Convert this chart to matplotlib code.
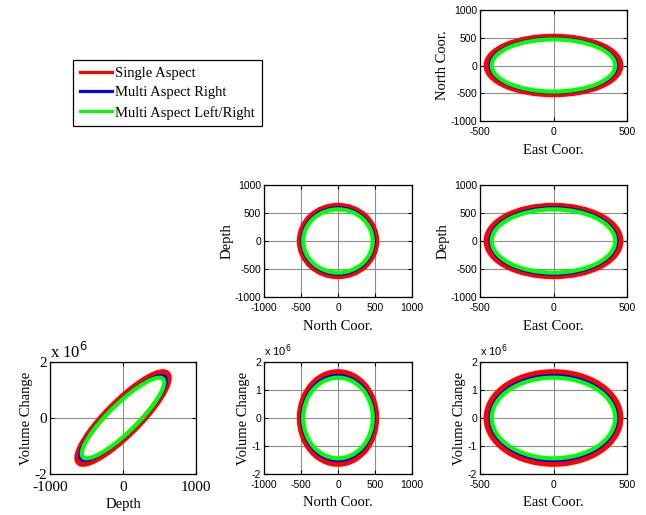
import numpy as np
import matplotlib.pyplot as plt
from matplotlib.patches import Ellipse
from matplotlib.lines import Line2D
from matplotlib.transforms import Affine2D

plt.rcParams["axes.unicode_minus"] = False

SERIES = ["Single Aspect", "Multi Aspect Right", "Multi Aspect Left/Right"]
COLORS = ["#ff0000", "#0000ff", "#00ff00"]
WIDTHS = [5.0, 2.2, 3.0]

# semi-axes (one value per series)
EAST = [452, 432, 420]
NORTH = [510, 490, 470]
DEPTH = [620, 595, 565]
VOLUME = [1.62e6, 1.52e6, 1.44e6]
RHO_DEPTH_VOL = [0.88, 0.88, 0.88]

SERIF = "Liberation Serif"
SANS = "Liberation Sans"
W, H = 646, 515


def px_axes(fig, x0, y0, x1, y1):
    return fig.add_axes([x0 / W, 1 - y1 / H, (x1 - x0) / W, (y1 - y0) / H])


def style(ax, xlim, ylim, xticks, yticks, tickfont, tsize, xpad=4):
    ax.set_xlim(xlim)
    ax.set_ylim(ylim)
    ax.set_xticks(xticks)
    ax.set_yticks(yticks)
    ax.tick_params(direction="in", length=3, width=0.8, top=True, right=True,
                   labelsize=tsize)
    ax.tick_params(axis="x", pad=xpad)
    ax.tick_params(axis="y", pad=2)
    for lab in ax.get_xticklabels() + ax.get_yticklabels():
        lab.set_fontfamily(tickfont)
    ax.grid(True, color="0.55", lw=0.8)
    ax.set_axisbelow(True)
    for s in ax.spines.values():
        s.set_linewidth(0.9)


def draw(ax, sx, sy, rho=None):
    for i in range(len(SERIES)):
        r = 0.0 if rho is None else rho[i]
        m = np.array([[sx[i], 0, 0],
                      [sy[i] * r, sy[i] * np.sqrt(1 - r * r), 0],
                      [0, 0, 1]])
        e = Ellipse((0, 0), 2, 2, fill=False, edgecolor=COLORS[i], lw=WIDTHS[i],
                    transform=Affine2D(m) + ax.transData, zorder=3 + i)
        ax.add_patch(e)


def labels(ax, xl, yl, xlpad=5):
    ax.set_xlabel(xl, fontfamily=SERIF, fontsize=10.5, labelpad=xlpad)
    ax.set_ylabel(yl, fontfamily=SERIF, fontsize=10.5, labelpad=1)


fig = plt.figure(figsize=(W / 100, H / 100), dpi=100)

COLS = [(50, 196), (264, 412), (480, 627)]
ROWS = [(10, 121), (185, 297), (362, 474)]
t1000 = [-1000, -500, 0, 500, 1000]
t500 = [-500, 0, 500]
tvol = [-2e6, -1e6, 0, 1e6, 2e6]
TS = 7.5

# East vs North
ax = px_axes(fig, COLS[2][0], ROWS[0][0], COLS[2][1], ROWS[0][1])
draw(ax, EAST, NORTH)
style(ax, (-500, 500), (-1000, 1000), t500, t1000, SANS, TS)
labels(ax, "East Coor.", "North Coor.")

# North vs Depth
ax = px_axes(fig, COLS[1][0], ROWS[1][0], COLS[1][1], ROWS[1][1])
draw(ax, NORTH, DEPTH)
style(ax, (-1000, 1000), (-1000, 1000), t1000, t1000, SANS, TS)
labels(ax, "North Coor.", "Depth")

# East vs Depth
ax = px_axes(fig, COLS[2][0], ROWS[1][0], COLS[2][1], ROWS[1][1])
draw(ax, EAST, DEPTH)
style(ax, (-500, 500), (-1000, 1000), t500, t1000, SANS, TS)
labels(ax, "East Coor.", "Depth")

vol_fmt = plt.FuncFormatter(lambda v, p: f"{v / 1e6:g}")

# Depth vs Volume
ax = px_axes(fig, COLS[0][0], ROWS[2][0], COLS[0][1], ROWS[2][1])
draw(ax, DEPTH, VOLUME, RHO_DEPTH_VOL)
ax.yaxis.set_major_formatter(vol_fmt)
style(ax, (-1000, 1000), (-2e6, 2e6), [-1000, 0, 1000], [-2e6, 0, 2e6], SERIF, 11,
      xpad=5)
labels(ax, "Depth", "Volume Change", xlpad=3)
ax.text(0.0, 1.0, r"x 10$^6$", transform=ax.transAxes, fontfamily=SERIF,
        fontsize=12, ha="left", va="bottom")

# North vs Volume
ax = px_axes(fig, COLS[1][0], ROWS[2][0], COLS[1][1], ROWS[2][1])
draw(ax, NORTH, VOLUME)
ax.yaxis.set_major_formatter(vol_fmt)
style(ax, (-1000, 1000), (-2e6, 2e6), t1000, tvol, SANS, TS)
labels(ax, "North Coor.", "Volume Change")
ax.text(0.0, 1.03, r"x 10$^6$", transform=ax.transAxes, fontfamily=SANS,
        fontsize=8, ha="left", va="bottom")

# East vs Volume
ax = px_axes(fig, COLS[2][0], ROWS[2][0], COLS[2][1], ROWS[2][1])
draw(ax, EAST, VOLUME)
ax.yaxis.set_major_formatter(vol_fmt)
style(ax, (-500, 500), (-2e6, 2e6), t500, tvol, SANS, TS)
labels(ax, "East Coor.", "Volume Change")
ax.text(0.0, 1.03, r"x 10$^6$", transform=ax.transAxes, fontfamily=SANS,
        fontsize=8, ha="left", va="bottom")

handles = [Line2D([], [], color=c, lw=2.3) for c in COLORS]
leg = fig.legend(handles, SERIES, loc="upper left",
                 bbox_to_anchor=(73 / W, 1 - 60 / H), borderaxespad=0,
                 prop={"family": SERIF, "size": 10.5}, handlelength=2.2,
                 handletextpad=0.25, labelspacing=0.44, borderpad=0.45,
                 fancybox=False, framealpha=1, edgecolor="black")
leg.get_frame().set_linewidth(0.9)

fig.savefig("out.png", dpi=100)
